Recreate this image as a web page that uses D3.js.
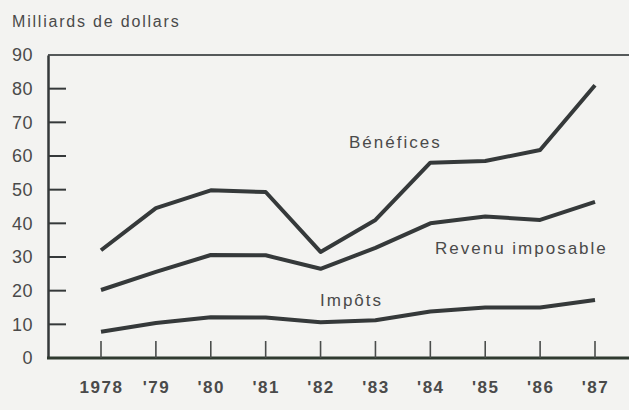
<!DOCTYPE html>
<html><head><meta charset="utf-8">
<script src="https://cdn.jsdelivr.net/npm/d3@7"></script>
<style>
html,body{margin:0;padding:0;background:#f3f3f1;}
svg{display:block;}
text{font-family:"Liberation Sans",Arial,Helvetica,sans-serif;fill:#4a4a4a;}
</style></head>
<body>
<svg id="chart" width="629" height="410"></svg>
<script>
const years = ["1978","'79","'80","'81","'82","'83","'84","'85","'86","'87"];
const benefices = [32, 44.5, 49.8, 49.3, 31.5, 41, 58, 58.5, 61.8, 81];
const revenuImposable = [20.2, 25.6, 30.6, 30.5, 26.5, 32.7, 40, 42, 41, 46.4];
const impots = [7.8, 10.4, 12.1, 12, 10.6, 11.2, 13.8, 15, 15, 17.2];
const yTicks = [0, 10, 20, 30, 40, 50, 60, 70, 80, 90];
const seriesLabels = ["Bénéfices", "Revenu imposable", "Impôts"];

(function () {
const svg = d3.select("#chart");
const mLeft = 48, mRight = 629, mTop = 55, mBottom = 358;

const x = d3.scalePoint().domain(years).range([101, 595]);
const y = d3.scaleLinear().domain([0, 90]).range([mBottom, mTop]);

const ink = "#35393a";

// frame: top line
svg.append("line").attr("x1", mLeft).attr("x2", mRight).attr("y1", y(90)).attr("y2", y(90))
  .attr("stroke", "#55595a").attr("stroke-width", 2);

// y axis
const yAxis = d3.axisLeft(y).tickValues(yTicks).tickSize(0).tickPadding(15).tickFormat(d3.format("d"));
const gy = svg.append("g").attr("transform", `translate(${mLeft},0)`).call(yAxis);
gy.select(".domain").attr("stroke", ink).attr("stroke-width", 2.5);
gy.selectAll("text").attr("font-size", 18).attr("fill", "#4a4a4a").attr("letter-spacing", 0.5)
  .attr("font-family", "Liberation Sans, Arial, sans-serif");
// inner ticks
svg.append("g").selectAll("line").data(yTicks.filter(d => d > 0 && d < 90)).join("line")
  .attr("x1", mLeft).attr("x2", mLeft + 18).attr("y1", d => y(d)).attr("y2", d => y(d))
  .attr("stroke", ink).attr("stroke-width", 2);

// x axis
const xAxis = d3.axisBottom(x).tickSize(0).tickPadding(23);
const gx = svg.append("g").attr("transform", `translate(0,${mBottom})`).call(xAxis);
gx.select(".domain").remove();
gx.selectAll("text").attr("font-size", 17).attr("font-weight", "bold").attr("fill", "#3a3a3a")
  .attr("letter-spacing", 1.5).attr("font-family", "Liberation Sans, Arial, sans-serif");
svg.append("line").attr("x1", mLeft - 1).attr("x2", mRight).attr("y1", mBottom).attr("y2", mBottom)
  .attr("stroke", "#2f3a30").attr("stroke-width", 3.2);
svg.append("g").selectAll("line").data(years).join("line")
  .attr("x1", d => x(d)).attr("x2", d => x(d)).attr("y1", mBottom).attr("y2", mBottom - 17)
  .attr("stroke", "#4a4d4c").attr("stroke-width", 1.6);

// lines
const line = d3.line().x((d, i) => x(years[i])).y(d => y(d));
[benefices, revenuImposable, impots].forEach(s => {
  svg.append("path").datum(s).attr("d", line).attr("fill", "none")
    .attr("stroke", ink).attr("stroke-width", 4).attr("stroke-linejoin", "round");
});

// title
svg.append("text").attr("x", 12).attr("y", 27).attr("font-size", 16).attr("letter-spacing", 1.8)
  .text("Milliards de dollars");

// series labels
const lbl = [
  {t: seriesLabels[0], x: 349, y: 148},
  {t: seriesLabels[1], x: 435, y: 254},
  {t: seriesLabels[2], x: 320, y: 306}
];
svg.append("g").selectAll("text").data(lbl).join("text")
  .attr("x", d => d.x).attr("y", d => d.y).attr("font-size", 17).attr("letter-spacing", 2)
  .text(d => d.t);
})();
</script>
</body></html>
